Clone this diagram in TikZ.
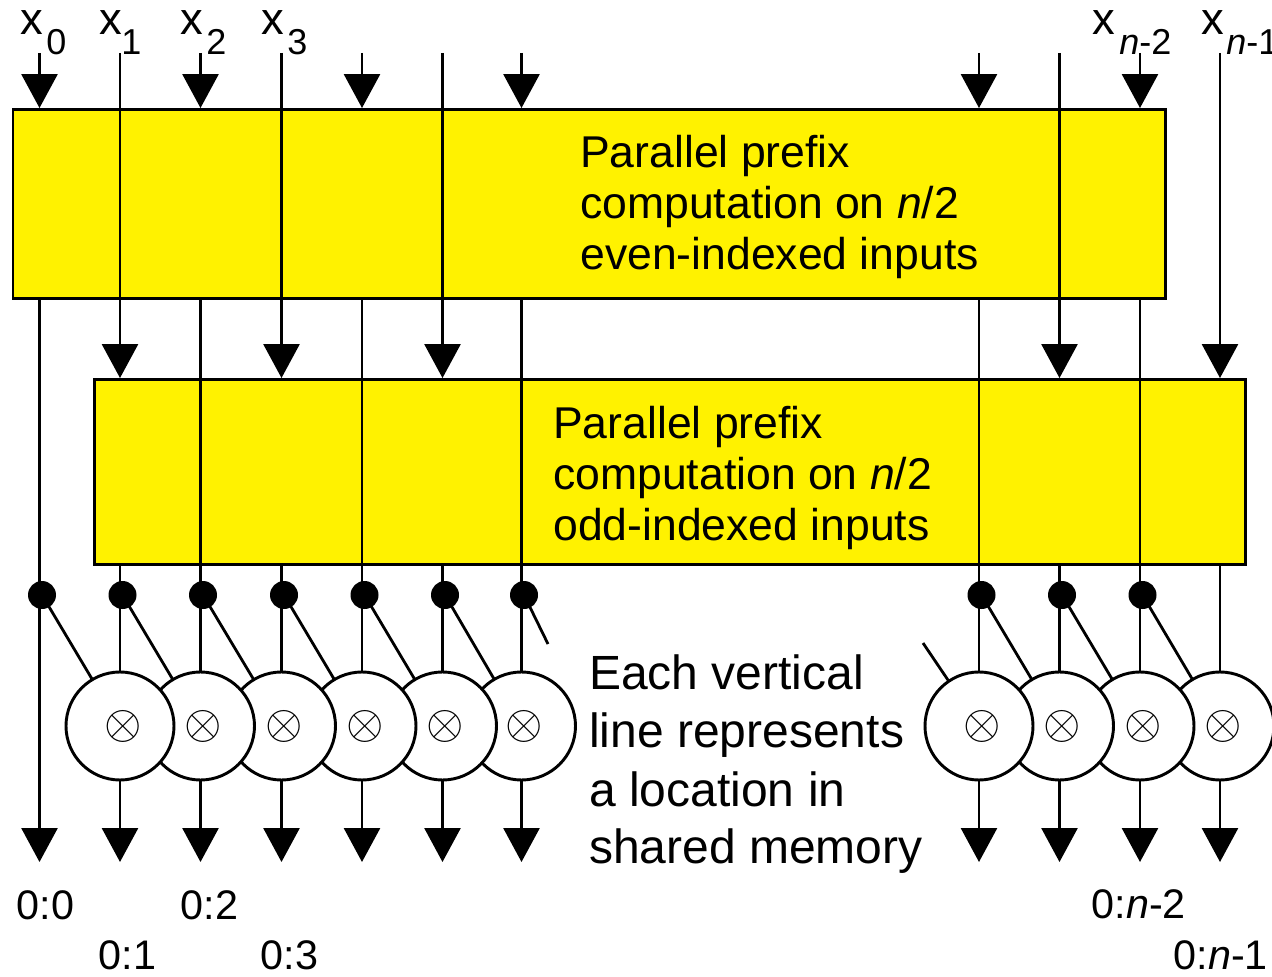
\documentclass[tikz,border=0pt]{standalone}
\usepackage{graphicx}
\usepackage{fontspec}
\setmainfont{Liberation Sans}
\usetikzlibrary{arrows.meta,fit}
\begin{document}
\begin{tikzpicture}[x=0.75pt,y=-0.75pt,
  wire/.style={line width=2.1pt},
  arr/.style={wire,-{Triangle[length=25.5pt,width=27pt]}},
  pbox/.style={draw,line width=2.2pt,fill=yellow,inner sep=0pt},
  opnode/.style={circle,draw,line width=2.2pt,fill=white,minimum size=81pt,inner sep=0pt,font=\fontsize{24}{24}\selectfont},
  dotnode/.style={circle,fill=black,minimum size=21pt,inner sep=0pt},
  boxtxt/.style={anchor=base west,inner sep=0pt,font=\fontsize{33.4}{38}\selectfont},
  notetxt/.style={anchor=base west,inner sep=0pt,font=\fontsize{36}{40}\selectfont},
  xlab/.style={anchor=base west,inner sep=0pt,font=\fontsize{34}{38}\selectfont},
  sublab/.style={anchor=base west,inner sep=0pt,font=\fontsize{27}{30}\selectfont},
  outlab/.style={anchor=base west,inner sep=0pt,font=\fontsize{31}{34}\selectfont}
]
\useasboundingbox (0,0) rectangle (1272,977);

% boxes
\node[pbox, fit={(13,109.5) (1165.5,298.5)}] (topbox) {};
\node[pbox, fit={(94.5,379.5) (1245.5,564.5)}] (botbox) {};

% coordinates of the memory lines
\foreach \i/\x in {0/39.5,1/120,2/200.5,3/281.5,4/362,5/442.5,6/521.5,7/979,8/1059.5,9/1140,10/1220}{
  \coordinate (t\i) at (\x,53);
  \coordinate (b\i) at (\x,862);
  \coordinate (m\i) at (\x,726);
  \coordinate (p\i) at (\x+2.5,595);
}
\coordinate (s6) at (548,644);
\coordinate (s7) at (923,643);

% even-indexed lines
\foreach \i in {0,2,4,6,7,9}{
  \draw[arr] (t\i) -- (t\i |- topbox.north);
  \draw[arr] (t\i |- topbox.south) -- (b\i);
}
% odd-indexed lines
\foreach \i in {1,3,5,8,10}{
  \draw[arr] (t\i) -- (t\i |- botbox.north);
  \draw[arr] (t\i |- botbox.south) -- (b\i);
}

% diagonal connectors
\foreach \i/\j in {0/1,1/2,2/3,3/4,4/5,5/6,7/8,8/9,9/10}{
  \draw[wire] (p\i) -- (m\j);
}
\draw[wire] (p6) -- (s6);
\draw[wire] (s7) -- (m7);

% operator circles (right to left, left ones on top)
\foreach \i in {10,9,8,7,6,5,4,3,2,1}{
  \node[opnode] (c\i) at (m\i) {\kern4.5pt\scalebox{1.45}{$\otimes$}};
}

% dots
\foreach \i in {0,...,9}{
  \node[dotnode] (d\i) at (p\i) {};
}

% box texts
\node[boxtxt] (ta1) at (580,168) {Parallel prefix};
\node[boxtxt] (ta2) at (580,219) {computation on \textit{n}/2};
\node[boxtxt] (ta3) at (580,270) {even-indexed inputs};
\node[boxtxt] (tb1) at (553,438) {Parallel prefix};
\node[boxtxt] (tb2) at (553,489) {computation on \textit{n}/2};
\node[boxtxt] (tb3) at (553,540) {odd-indexed inputs};

% note
\node[notetxt] (n1) at (589,689) {Each vertical};
\node[notetxt] (n2) at (589,747) {line represents};
\node[notetxt] (n3) at (589,806) {a location in};
\node[notetxt] (n4) at (589,863) {shared memory};

% input labels
\node[xlab] (lx0) at (20,35) {x};   \node[sublab] (sx0) at (46,55) {0};
\node[xlab] (lx1) at (99,35) {x};   \node[sublab] (sx1) at (121,55) {1};
\node[xlab] (lx2) at (180,35) {x};  \node[sublab] (sx2) at (206,55) {2};
\node[xlab] (lx3) at (261,35) {x};  \node[sublab] (sx3) at (287,55) {3};
\node[xlab] (lxa) at (1092,35) {x}; \node[sublab] (sxa) at (1119,55) {\textit{n}-2};
\node[xlab] (lxb) at (1201,35) {x}; \node[sublab] (sxb) at (1226,55) {\textit{n}-1};

% output labels
\node[outlab] (o0) at (16.5,919) {0:0};
\node[outlab] (o1) at (98.5,969) {0:1};
\node[outlab] (o2) at (180.5,919) {0:2};
\node[outlab] (o3) at (260.5,969) {0:3};
\node[outlab] (oa) at (1091.5,918) {0:\textit{n}-2};
\node[outlab] (ob) at (1173.5,969) {0:\textit{n}-1};
\end{tikzpicture}
\end{document}
